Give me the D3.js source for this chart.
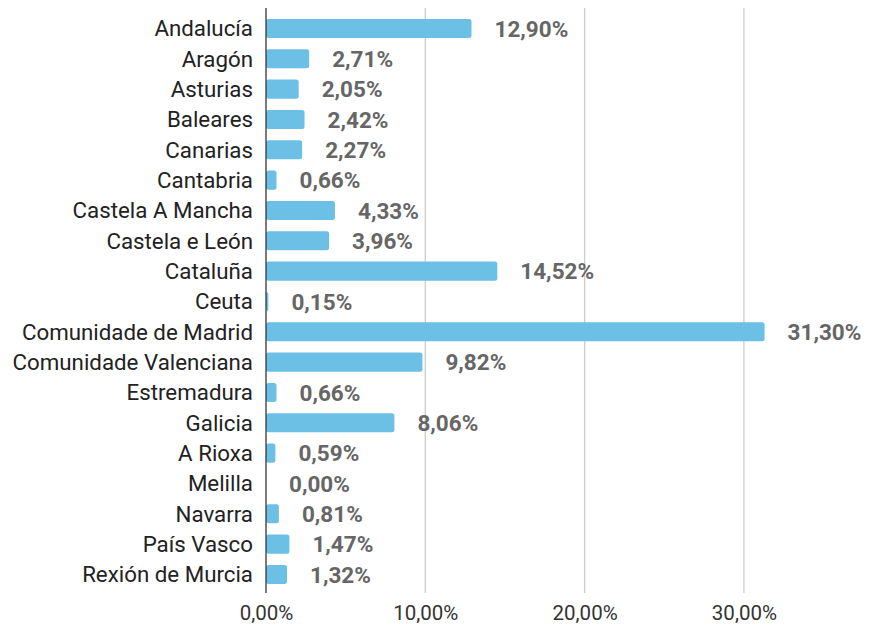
<!DOCTYPE html>
<html><head><meta charset="utf-8">
<script src="https://cdn.jsdelivr.net/npm/d3@7"></script>
<style>body{margin:0;background:#fff}svg{display:block}</style>
</head><body>
<svg id="c" width="891" height="626"></svg>
<script>
const categories = ["Andalucía","Aragón","Asturias","Baleares","Canarias","Cantabria","Castela A Mancha","Castela e León","Cataluña","Ceuta","Comunidade de Madrid","Comunidade Valenciana","Estremadura","Galicia","A Rioxa","Melilla","Navarra","País Vasco","Rexión de Murcia"];
const values = [12.90,2.71,2.05,2.42,2.27,0.66,4.33,3.96,14.52,0.15,31.30,9.82,0.66,8.06,0.59,0.00,0.81,1.47,1.32];
const tickValues = [0,10,20,30];
const fmt = v => v.toFixed(2).replace(".", ",") + "%";

const svg = d3.select("#c");
const x = d3.scaleLinear().domain([0,10]).range([266,425.3]);
const y = d3.scaleBand().domain(categories).range([13.3,589.6]).paddingInner(0.37).paddingOuter(0.185);
const plotTop = 8, plotBottom = 593;

// gridlines
svg.append("g").selectAll("line").data(tickValues.slice(1)).join("line")
  .attr("x1",d=>x(d)).attr("x2",d=>x(d)).attr("y1",plotTop).attr("y2",plotBottom)
  .attr("stroke","#cccccc").attr("stroke-width",1.3);

// bars
svg.append("g").selectAll("rect").data(values).join("rect")
  .attr("x",x(0)).attr("y",(d,i)=>y(categories[i]))
  .attr("width",d=>Math.max(0,x(d)-x(0))).attr("height",y.bandwidth())
  .attr("rx",2.5).attr("fill","#6cc0e5");

// axis line
svg.append("line").attr("x1",x(0)).attr("x2",x(0)).attr("y1",plotTop).attr("y2",plotBottom)
  .attr("stroke","#333").attr("stroke-width",1.3);

// category labels
svg.append("g").selectAll("text").data(categories).join("text")
  .attr("x",x(0)-13).attr("y",d=>y(d)+y.bandwidth()/2).attr("dy","0.36em")
  .attr("text-anchor","end").attr("font-family","Roboto").attr("font-size",22.3)
  .attr("fill","#222").text(d=>d);

// value labels
svg.append("g").selectAll("text").data(values).join("text")
  .attr("x",d=>x(d)+23).attr("y",(d,i)=>y(categories[i])+y.bandwidth()/2).attr("dy","0.36em")
  .attr("font-family","Roboto").attr("font-weight","bold").attr("font-size",22.5)
  .attr("fill","#666").text(d=>fmt(d));

// x tick labels
const xAxis = d3.axisBottom(x).tickValues(tickValues).tickFormat(fmt).tickSize(0).tickPadding(0);
const ax = svg.append("g").attr("transform",`translate(0,605)`).call(xAxis);
ax.select(".domain").remove();
ax.selectAll("text").attr("font-family","Roboto").attr("font-size",20.5).attr("fill","#333");
</script>
</body></html>
